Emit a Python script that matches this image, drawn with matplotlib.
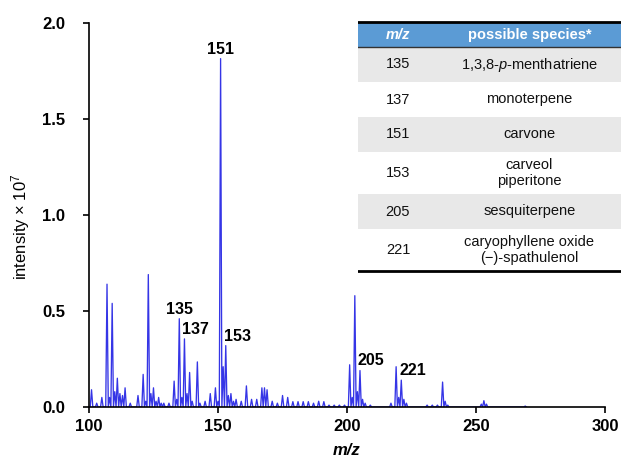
import matplotlib

matplotlib.use("Agg")
import matplotlib.pyplot as plt
from matplotlib.patches import Rectangle

plt.rcParams["font.family"] = ["Liberation Sans", "DejaVu Sans"]
plt.rcParams["mathtext.fontset"] = "custom"
plt.rcParams["mathtext.rm"] = "Liberation Sans"
plt.rcParams["mathtext.it"] = "Liberation Sans:italic"
plt.rcParams["mathtext.bf"] = "Liberation Sans:bold"

# peak list (m/z, intensity x 1e7)
peak_mz = [
    101, 103, 105, 107, 108, 109, 110, 111, 112, 113, 114, 116, 119, 121, 122,
    123, 124, 125, 126, 127, 128, 129, 131, 133, 134, 135, 136, 137, 138, 139,
    140, 142, 143, 145, 147, 149, 150, 151, 152, 153, 154, 155, 156, 157, 159,
    161, 163, 165, 167, 168, 169, 171, 173, 175, 177, 179, 181, 183, 185, 187,
    189, 191, 193, 195, 197, 199, 201, 202, 203, 204, 205, 206, 207, 209, 217,
    219, 220, 221, 222, 223, 231, 233, 235, 237, 238, 239, 252, 253, 254, 269,
]
peak_int = [
    0.09, 0.02, 0.05, 0.64, 0.05, 0.54, 0.08, 0.15, 0.07, 0.06, 0.10, 0.02, 0.06, 0.17, 0.03,
    0.69, 0.07, 0.10, 0.03, 0.05, 0.02, 0.02, 0.02, 0.135, 0.04, 0.46, 0.05, 0.355, 0.07, 0.18,
    0.03, 0.235, 0.02, 0.03, 0.07, 0.10, 0.03, 1.815, 0.21, 0.32, 0.06, 0.07, 0.03, 0.04, 0.03,
    0.11, 0.04, 0.04, 0.10, 0.10, 0.09, 0.03, 0.02, 0.06, 0.05, 0.028, 0.028, 0.028, 0.028, 0.02,
    0.03, 0.028, 0.01, 0.01, 0.01, 0.01, 0.22, 0.05, 0.58, 0.08, 0.19, 0.04, 0.02, 0.01, 0.02,
    0.21, 0.05, 0.14, 0.04, 0.02, 0.01, 0.01, 0.01, 0.13, 0.03, 0.01, 0.015, 0.033, 0.015, 0.005,
]

labeled_mz = [151, 135, 137, 153, 205, 221]

table_mz = ["135", "137", "151", "153", "205", "221"]
table_species = [
    "1,3,8-$\\it{p}$-menthatriene",
    "monoterpene",
    "carvone",
    "carveol\npiperitone",
    "sesquiterpene",
    "caryophyllene oxide\n(\u2212)-spathulenol",
]

fig = plt.figure(figsize=(6.22, 4.62), dpi=100)
ax = fig.add_axes([0.143, 0.119, 0.830, 0.831])

# profile-like trace: narrow triangle per peak
xs, ys = [], []
for mz, inten in zip(peak_mz, peak_int):
    xs += [mz - 0.5, mz, mz + 0.5]
    ys += [0, inten, 0]
ax.plot(xs, ys, color="#3535e6", lw=0.95)

peaks = dict(zip(peak_mz, peak_int))
for mz in labeled_mz:
    if mz in (151, 135):
        ax.annotate(str(mz), (mz, peaks[mz]), xytext=(0, 1.5), textcoords="offset points",
                    ha="center", va="bottom", fontsize=11.5, fontweight="bold")
    else:
        ax.annotate(str(mz), (mz, peaks[mz]), xytext=(-1.5, 1.5), textcoords="offset points",
                    ha="left", va="bottom", fontsize=11.5, fontweight="bold")

ax.set_xlim(100, 300)
ax.set_ylim(0, 2.0)
ax.set_xticks([100, 150, 200, 250, 300])
ax.set_yticks([0, 0.5, 1.0, 1.5, 2.0])
ax.set_yticklabels(["0.0", "0.5", "1.0", "1.5", "2.0"])
for lab in ax.get_xticklabels() + ax.get_yticklabels():
    lab.set_fontweight("bold")
    lab.set_fontsize(12)
ax.tick_params(direction="out", length=4.3, width=1.2, color="black")
ax.tick_params(axis="y", pad=13)
ax.tick_params(axis="x", pad=4.5)
for side in ("top", "right"):
    ax.spines[side].set_visible(False)
for side in ("left", "bottom"):
    ax.spines[side].set_linewidth(1.2)
ax.set_xlabel("m/z", fontsize=12, fontstyle="italic", fontweight="bold")
ax.set_ylabel("intensity \u00d7 10$^{7}$", fontsize=12)
ax.xaxis.set_label_coords(0.5, -0.095)
ax.yaxis.set_label_coords(-0.11, 0.47)

# table drawn in pixel units on an overlay axes
tx0, tx1, ty0, ty1 = 358, 621, 21, 273
tab = fig.add_axes([tx0 / 622, 1 - ty1 / 462, (tx1 - tx0) / 622, (ty1 - ty0) / 462])
tab.set_xlim(tx0, tx1)
tab.set_ylim(ty1, ty0)
tab.axis("off")
col_split = 438
header_h = 25
row_h = [35 + 7 * s.count("\n") for s in table_species]

y = ty0 + 1
tab.add_patch(Rectangle((tx0, y), tx1 - tx0, header_h, color="#5b9bd5", lw=0))
tab.text((tx0 + col_split) / 2, y + header_h / 2, "m/z", color="white", fontsize=10.5,
         fontweight="bold", fontstyle="italic", ha="center", va="center")
tab.text((col_split + tx1) / 2, y + header_h / 2, "possible species*", color="white",
         fontsize=10.5, fontweight="bold", ha="center", va="center")
tab.plot([tx0, tx1], [y, y], color="black", lw=2)
y += header_h
tab.plot([tx0, tx1], [y, y], color="#333333", lw=1)
for i, (mz, sp) in enumerate(zip(table_mz, table_species)):
    h = row_h[i]
    if i % 2 == 0:
        tab.add_patch(Rectangle((tx0, y), tx1 - tx0, h, color="#e8e8e8", lw=0))
    tab.text((tx0 + col_split) / 2, y + h / 2, mz, fontsize=10.5, ha="center", va="center",
             color="#111111")
    tab.text((col_split + tx1) / 2, y + h / 2, sp, fontsize=10.5, ha="center", va="center",
             color="#111111", linespacing=1.2)
    y += h
tab.plot([tx0, tx1], [y, y], color="black", lw=2)

fig.savefig("out.png", dpi=100)
